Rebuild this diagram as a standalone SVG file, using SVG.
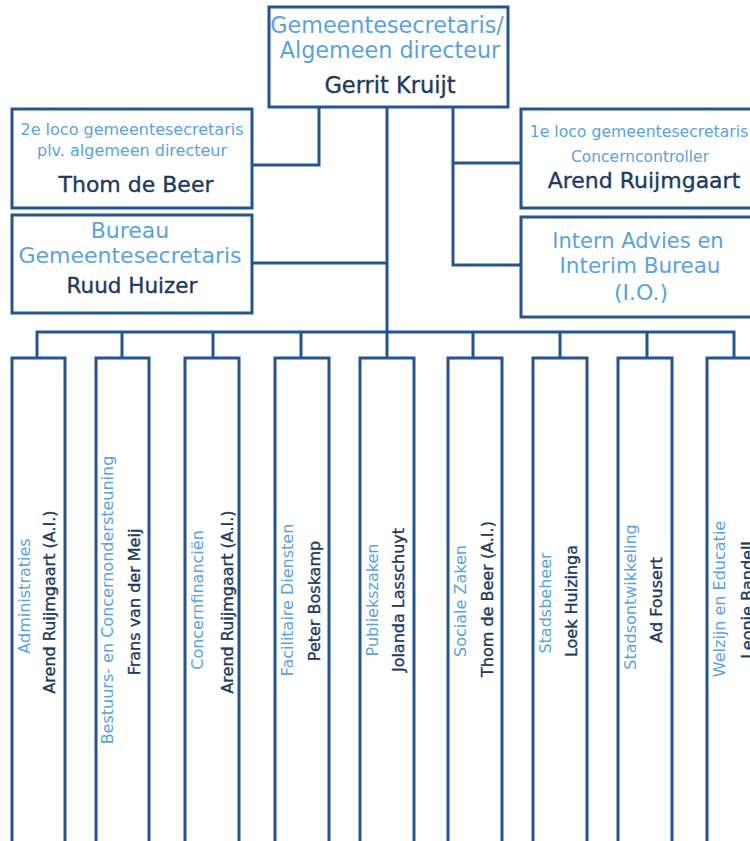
<svg xmlns="http://www.w3.org/2000/svg" width="750" height="841" viewBox="0 0 750 841">
<style>
.box{fill:#fff;stroke:#24558f;stroke-width:3}
.ln{fill:none;stroke:#24558f;stroke-width:3}
.t{font-family:"DejaVu Sans","Open Sans",sans-serif;fill:#5aa3dc;text-anchor:middle}
.n{font-family:"DejaVu Sans","Open Sans",sans-serif;fill:#1c3a60;stroke:#1c3a60;stroke-width:0.35;text-anchor:middle}
.v{font-size:16px}
</style>
<rect width="750" height="841" fill="#fff"/>
<g id="connectors">
<path class="ln" d="M387,107 V332 M319,107 V165 H252 M387,263 H252 M453,107 V265 H521 M453,163 H521"/>
<path class="ln" d="M37,358 V332 H734 V358 M122,332 V358 M213,332 V358 M301,332 V358 M387,332 V358 M473,332 V358 M560,332 V358 M647,332 V358"/>
</g>
<g id="gemeentesecretaris">
<rect class="box" x="269" y="7" width="239" height="100"/>
<text class="t" x="387" y="33" font-size="22.3">Gemeentesecretaris/</text>
<text class="t" x="390" y="58" font-size="22.3">Algemeen directeur</text>
<text class="n" x="390" y="93" font-size="22.5">Gerrit Kruijt</text>
</g>
<g id="loco2">
<rect class="box" x="12" y="109" width="240" height="99"/>
<text class="t" x="132" y="135" font-size="16">2e loco gemeentesecretaris</text>
<text class="t" x="132" y="156" font-size="16">plv. algemeen directeur</text>
<text class="n" x="136" y="192" font-size="22">Thom de Beer</text>
</g>
<g id="bureau">
<rect class="box" x="12" y="215" width="240" height="98"/>
<text class="t" x="130" y="238" font-size="22">Bureau</text>
<text class="t" x="130" y="263" font-size="22">Gemeentesecretaris</text>
<text class="n" x="132" y="293" font-size="21.5">Ruud Huizer</text>
</g>
<g id="loco1">
<rect class="box" x="521" y="109" width="240" height="99"/>
<text class="t" x="639" y="137" font-size="15.7">1e loco gemeentesecretaris</text>
<text class="t" x="640" y="162" font-size="15.5">Concerncontroller</text>
<text class="n" x="644" y="188" font-size="22">Arend Ruijmgaart</text>
</g>
<g id="intern-advies">
<rect class="box" x="521" y="217" width="240" height="100"/>
<text class="t" x="638" y="248" font-size="21">Intern Advies en</text>
<text class="t" x="640" y="273" font-size="21.5">Interim Bureau</text>
<text class="t" x="641" y="300" font-size="22">(I.O.)</text>
</g>
<g id="administraties">
<rect class="box" x="12" y="358" width="53" height="500"/>
<text class="t v" transform="translate(30,596) rotate(-90)">Administraties</text>
<text class="n v" transform="translate(55,602) rotate(-90)">Arend Ruijmgaart (A.I.)</text>
</g>
<g id="bestuurs">
<rect class="box" x="96" y="358" width="53" height="500"/>
<text class="t v" transform="translate(113,600) rotate(-90)">Bestuurs- en Concernondersteuning</text>
<text class="n v" transform="translate(140,602) rotate(-90)">Frans van der Meij</text>
</g>
<g id="concernfinancien">
<rect class="box" x="185" y="358" width="54" height="500"/>
<text class="t v" transform="translate(203,600) rotate(-90)">Concernfinanciën</text>
<text class="n v" transform="translate(233,602) rotate(-90)">Arend Ruijmgaart (A.I.)</text>
</g>
<g id="facilitaire">
<rect class="box" x="275" y="358" width="54" height="500"/>
<text class="t v" transform="translate(293,600) rotate(-90)">Facilitaire Diensten</text>
<text class="n v" transform="translate(320,601) rotate(-90)">Peter Boskamp</text>
</g>
<g id="publiekszaken">
<rect class="box" x="360" y="358" width="54" height="500"/>
<text class="t v" transform="translate(378,600) rotate(-90)">Publiekszaken</text>
<text class="n v" transform="translate(404,600) rotate(-90)">Jolanda Lasschuyt</text>
</g>
<g id="sociale-zaken">
<rect class="box" x="448" y="358" width="54" height="500"/>
<text class="t v" transform="translate(466,601) rotate(-90)">Sociale Zaken</text>
<text class="n v" transform="translate(493,599) rotate(-90)">Thom de Beer (A.I.)</text>
</g>
<g id="stadsbeheer">
<rect class="box" x="533" y="358" width="54" height="500"/>
<text class="t v" transform="translate(551,603) rotate(-90)">Stadsbeheer</text>
<text class="n v" transform="translate(577,601) rotate(-90)">Loek Huizinga</text>
</g>
<g id="stadsontwikkeling">
<rect class="box" x="618" y="358" width="54" height="500"/>
<text class="t v" transform="translate(636,597) rotate(-90)">Stadsontwikkeling</text>
<text class="n v" transform="translate(662,600) rotate(-90)">Ad Fousert</text>
</g>
<g id="welzijn">
<rect class="box" x="707" y="358" width="54" height="500"/>
<text class="t v" transform="translate(725,599) rotate(-90)">Welzijn en Educatie</text>
<text class="n v" transform="translate(753,600) rotate(-90)">Leonie Bandell</text>
</g>
</svg>
